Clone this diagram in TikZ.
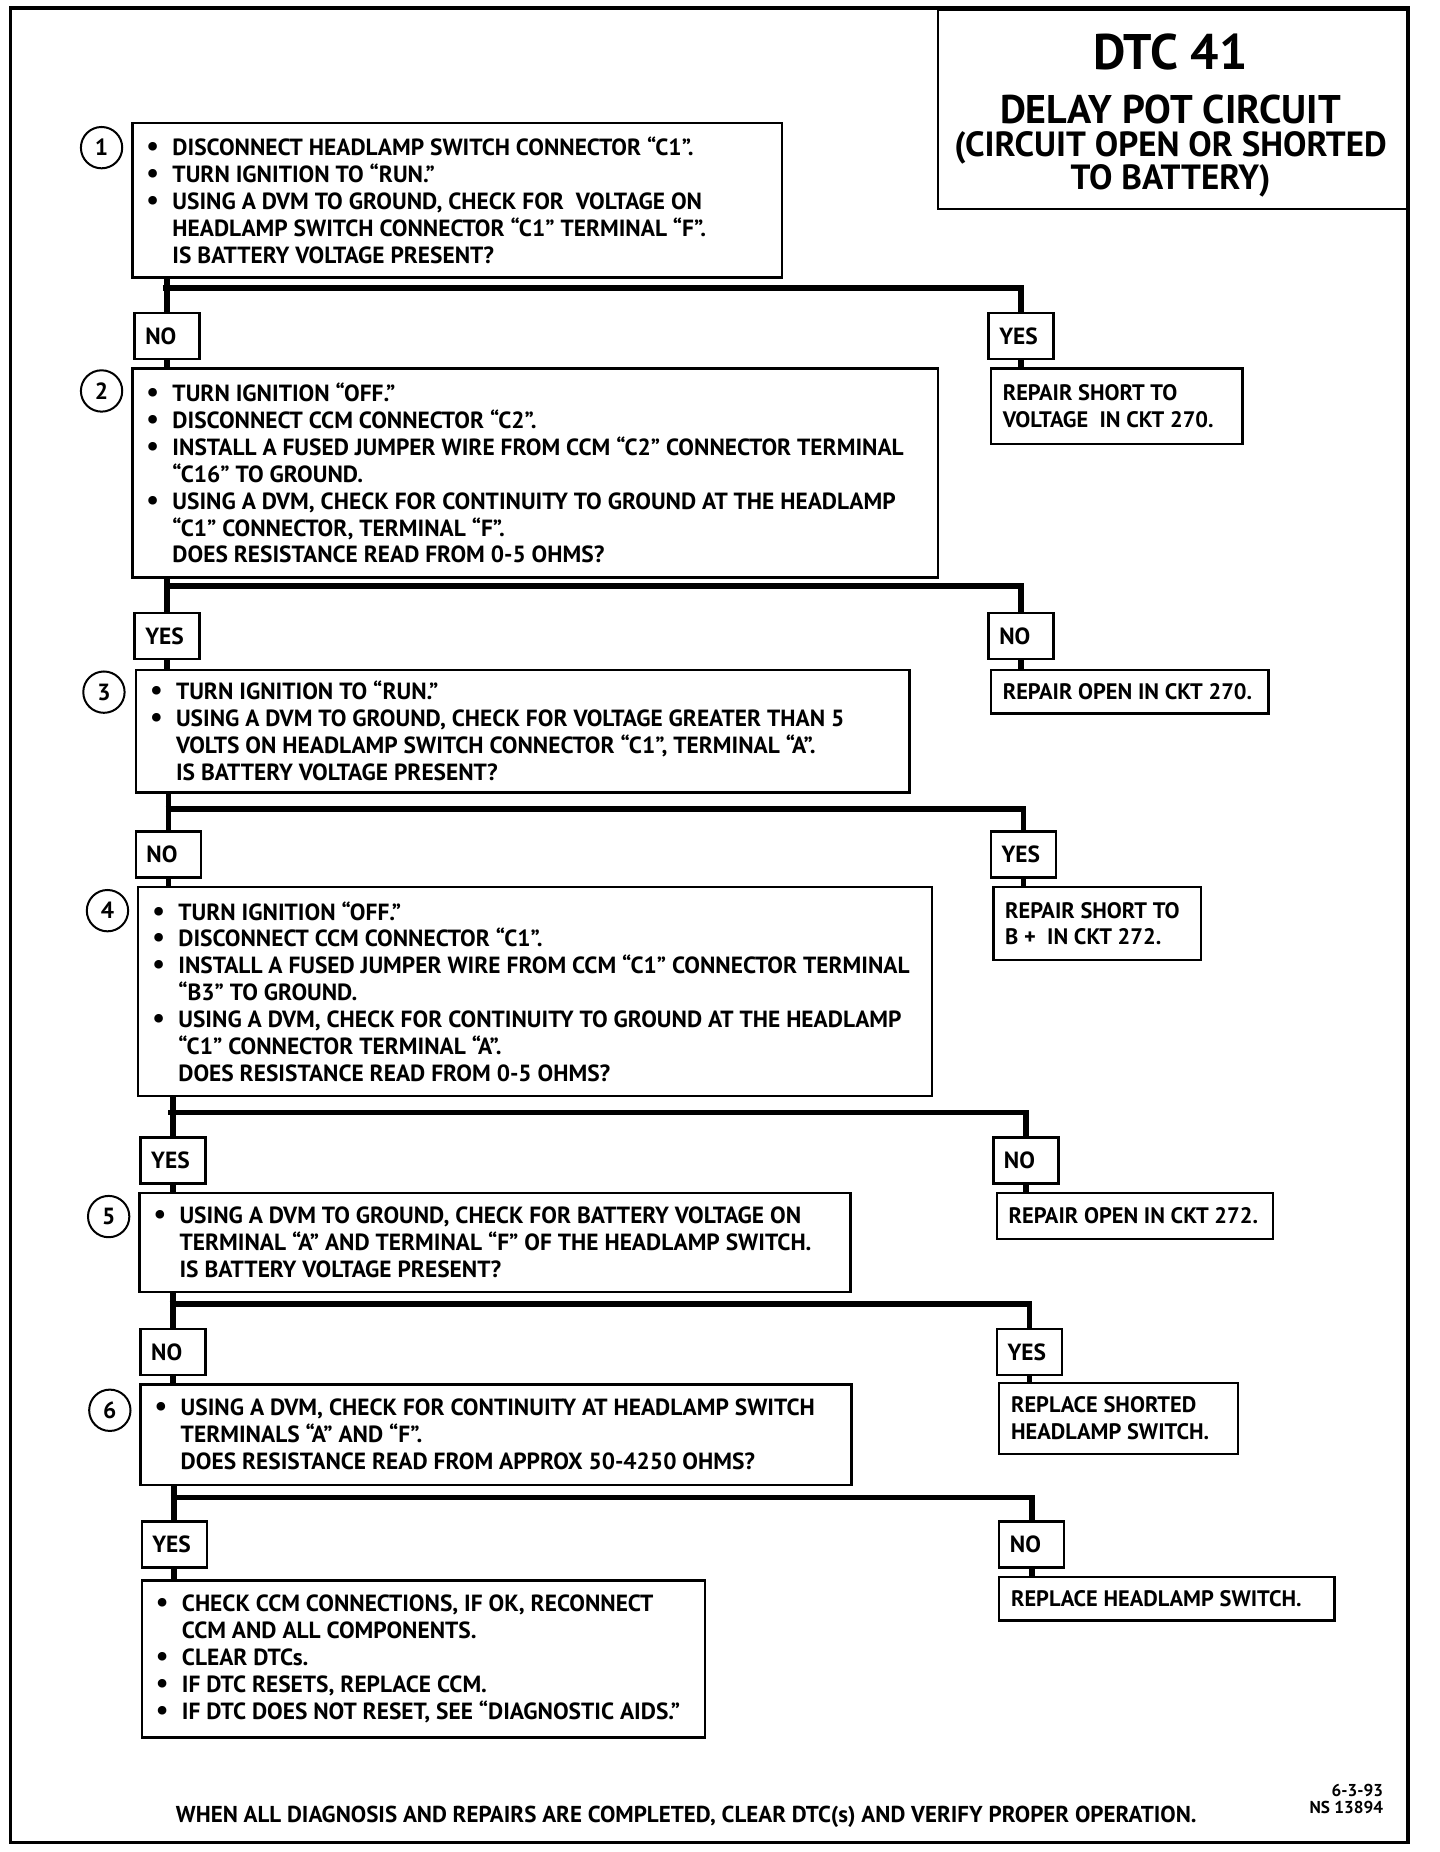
\documentclass[tikz,border=0pt]{standalone}
\usepackage{fontspec}
\setmainfont{PT Sans}
\newlength\uu \setlength\uu{0.59055pt}
\newcommand\txt{\bfseries\fontsize{11.7}{13.45}\selectfont}
\newcommand\bl{\makebox[13pt][l]{\scalebox{1.2}{•}}}
\newcommand\ind{\hspace*{13pt}}
\newcommand\bt[2]{\parbox{#1\uu}{\raggedright\txt #2}}
\newcommand\rt[2]{\parbox{#1\uu}{\raggedright\bfseries\fontsize{11.2}{13.45}\selectfont #2}}
\newcommand\lab[1]{\makebox[37\uu][l]{\txt #1}}
\tikzset{
  bx/.style 2 args={draw, line width=1.2pt, anchor=north west, inner xsep=12*\uu, inner ysep=0pt,
     minimum width=#1*\uu, minimum height=#2*\uu},
  rp/.style 2 args={draw, line width=1.2pt, anchor=north west, inner xsep=10*\uu, inner ysep=0pt,
     minimum width=#1*\uu, minimum height=#2*\uu},
  lb/.style={draw, line width=1.2pt, anchor=north west, inner xsep=9*\uu, inner ysep=0pt,
     minimum width=55*\uu, minimum height=39*\uu},
  num/.style={draw, circle, line width=1pt, minimum size=35*\uu, inner sep=0pt, font=\txt},
  ttl/.style={inner sep=0pt, font=\bfseries\fontsize{#1}{#1}\selectfont},
  conn/.style={line width=2.8pt},
}
\begin{document}
\begin{tikzpicture}[x=\uu,y=-\uu]
\useasboundingbox (0,0) rectangle (1219,1568);
\draw[line width=1.8pt] (9,7) rectangle (1192,1560);
% title
\node[draw, line width=1.2pt, anchor=north west, minimum width=397*\uu, minimum height=169*\uu, inner sep=0pt] (title) at (793,7) {};
\node[ttl=25] (t1) at (991,44) {DTC 41};
\node[ttl=20] (t2) at (991,93) {DELAY POT CIRCUIT};
\node[ttl=17.5] (t3) at (991,125.5) {(CIRCUIT OPEN OR SHORTED};
\node[ttl=17.5] (t4) at (991,153) {TO BATTERY)};

% step boxes
\node[bx={550}{131}] (b1) at (111,103) {\bt{526}{%
\bl DISCONNECT HEADLAMP SWITCH CONNECTOR “C1”.\\
\bl TURN IGNITION TO “RUN.”\\
\bl USING A DVM TO GROUND, CHECK FOR\ \ VOLTAGE ON\\
\ind HEADLAMP SWITCH CONNECTOR “C1” TERMINAL “F”.\\
\ind IS BATTERY VOLTAGE PRESENT?}};
\node[bx={682}{177}] (b2) at (111,311) {\bt{658}{%
\bl TURN IGNITION “OFF.”\\
\bl DISCONNECT CCM CONNECTOR “C2”.\\
\bl INSTALL A FUSED JUMPER WIRE FROM CCM “C2” CONNECTOR TERMINAL\\
\ind “C16” TO GROUND.\\
\bl USING A DVM, CHECK FOR CONTINUITY TO GROUND AT THE HEADLAMP\\
\ind “C1” CONNECTOR, TERMINAL “F”.\\
\ind DOES RESISTANCE READ FROM 0-5 OHMS?}};
\node[bx={655}{104}] (b3) at (114,566) {\bt{631}{%
\bl TURN IGNITION TO “RUN.”\\
\bl USING A DVM TO GROUND, CHECK FOR VOLTAGE GREATER THAN 5\\
\ind VOLTS ON HEADLAMP SWITCH CONNECTOR “C1”, TERMINAL “A”.\\
\ind IS BATTERY VOLTAGE PRESENT?}};
\node[bx={672}{177}] (b4) at (116,750) {\bt{648}{%
\bl TURN IGNITION “OFF.”\\
\bl DISCONNECT CCM CONNECTOR “C1”.\\
\bl INSTALL A FUSED JUMPER WIRE FROM CCM “C1” CONNECTOR TERMINAL\\
\ind “B3” TO GROUND.\\
\bl USING A DVM, CHECK FOR CONTINUITY TO GROUND AT THE HEADLAMP\\
\ind “C1” CONNECTOR TERMINAL “A”.\\
\ind DOES RESISTANCE READ FROM 0-5 OHMS?}};
\node[bx={602}{84}] (b5) at (117,1009) {\bt{578}{%
\bl USING A DVM TO GROUND, CHECK FOR BATTERY VOLTAGE ON\\
\ind TERMINAL “A” AND TERMINAL “F” OF THE HEADLAMP SWITCH.\\
\ind IS BATTERY VOLTAGE PRESENT?}};
\node[bx={602}{85}] (b6) at (118,1171) {\bt{578}{%
\bl USING A DVM, CHECK FOR CONTINUITY AT HEADLAMP SWITCH\\
\ind TERMINALS “A” AND “F”.\\
\ind DOES RESISTANCE READ FROM APPROX 50-4250 OHMS?}};
\node[bx={477}{133}] (b7) at (119,1337) {\bt{453}{%
\bl CHECK CCM CONNECTIONS, IF OK, RECONNECT\\
\ind CCM AND ALL COMPONENTS.\\
\bl CLEAR DTCs.\\
\bl IF DTC RESETS, REPLACE CCM.\\
\bl IF DTC DOES NOT RESET, SEE “DIAGNOSTIC AIDS.”}};

% step numbers
\node[num] (c1) at (86,125) {1};
\node[num] (c2) at (86,331) {2};
\node[num] (c3) at (88,586) {3};
\node[num] (c4) at (91,771) {4};
\node[num] (c5) at (92,1030) {5};
\node[num] (c6) at (93,1194) {6};

% repair boxes
\node[rp={213}{64}] (r1) at (838,311) {\rt{193}{\mbox{REPAIR SHORT TO}\\\mbox{VOLTAGE\ \ IN CKT 270.}}};
\node[rp={235}{37}] (r2) at (838,566) {\rt{215}{\mbox{REPAIR OPEN IN CKT 270.}}};
\node[rp={176}{62}] (r3) at (840,750) {\rt{156}{\mbox{REPAIR SHORT TO}\\\mbox{B +\ \ IN CKT 272.}}};
\node[rp={234}{39}] (r4) at (843,1009) {\rt{214}{\mbox{REPAIR OPEN IN CKT 272.}}};
\node[rp={202}{60}] (r5) at (845,1170) {\rt{182}{\mbox{REPLACE SHORTED}\\\mbox{HEADLAMP SWITCH.}}};
\node[rp={284}{37}] (r6) at (845,1334) {\rt{264}{\mbox{REPLACE HEADLAMP SWITCH.}}};

% answer labels
\node[lb] (l1) at (113,264) {\lab{NO}};
\node[lb] (y1) at (836,264) {\lab{YES}};
\node[lb] (l2) at (113,518) {\lab{YES}};
\node[lb] (y2) at (836,518) {\lab{NO}};
\node[lb] (l3) at (114,703) {\lab{NO}};
\node[lb] (y3) at (838,703) {\lab{YES}};
\node[lb] (l4) at (118,962) {\lab{YES}};
\node[lb] (y4) at (840,962) {\lab{NO}};
\node[lb] (l5) at (118,1124) {\lab{NO}};
\node[lb] (y5) at (843,1124) {\lab{YES}};
\node[lb] (l6) at (119,1287) {\lab{YES}};
\node[lb] (y6) at (845,1287) {\lab{NO}};

% junctions
\coordinate (j1) at (140.5,244);
\coordinate (j2) at (141.5,496);
\coordinate (j3) at (142.5,685);
\coordinate (j4) at (145,942);
\coordinate (j5) at (146,1104);
\coordinate (j6) at (147,1268);

% connectors
\foreach \a/\l/\r/\n/\rr/\j in {b1/l1/y1/b2/r1/j1, b2/l2/y2/b3/r2/j2, b3/l3/y3/b4/r3/j3,
                               b4/l4/y4/b5/r4/j4, b5/l5/y5/b6/r5/j5, b6/l6/y6/b7/r6/j6}{
  \draw[conn] (\a.south -| \l.north) -- (\l.north);
  \draw[conn] (\l.south) -- (\l.south |- \n.north);
  \draw[conn] ([xshift=-1.4pt]\j) -| (\r.north);
  \draw[conn] (\r.south) -- (\r.south |- \rr.north);
}

% footer
\node[font=\bfseries\fontsize{11.5}{13}\selectfont, anchor=west] (foot) at (143,1538) {WHEN ALL DIAGNOSIS AND REPAIRS ARE COMPLETED, CLEAR DTC(s) AND VERIFY PROPER OPERATION.};
\node[font=\bfseries\fontsize{8.6}{8.4}\selectfont, align=right, anchor=east] (code) at (1177,1523) {6-3-93\\NS 13894};
\end{tikzpicture}
\end{document}
